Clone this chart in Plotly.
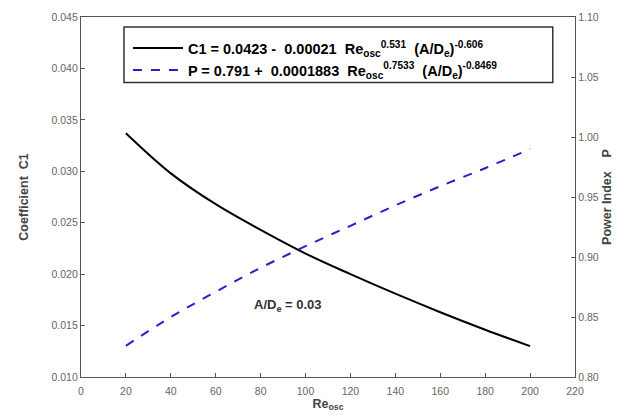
import plotly.graph_objects as go

re_osc = [20, 40, 60, 80, 100, 120, 140, 160, 180, 200]
c1_vals = [0.0337, 0.0298, 0.0268, 0.0243, 0.0220, 0.0200, 0.0181, 0.0163, 0.0146, 0.0130]
p_vals = [0.826, 0.850, 0.871, 0.891, 0.909, 0.926, 0.943, 0.959, 0.974, 0.990]

x_ticks = list(range(0, 221, 20))
c1_label = "<b>C1 = 0.0423 -  0.00021  Re<sub>osc</sub><sup>0.531</sup>  (A/D<sub>e</sub>)<sup>-0.606</sup></b>"
p_label = "<b>P = 0.791 +  0.0001883  Re<sub>osc</sub><sup>0.7533</sup>  (A/D<sub>e</sub>)<sup>-0.8469</sup></b>"

FONT = "Liberation Sans, Arial, sans-serif"

fig = go.Figure()
fig.add_trace(go.Scatter(x=re_osc, y=c1_vals, mode="lines", name=c1_label,
                         line=dict(color="black", width=2, shape="spline"), yaxis="y"))
fig.add_trace(go.Scatter(x=re_osc, y=p_vals, mode="lines", name=p_label,
                         line=dict(color="#2222cc", width=2, dash="dash", shape="spline"), yaxis="y2"))

axis_common = dict(showline=True, linecolor="#555", linewidth=1.2, ticks="inside",
                   ticklen=4, tickcolor="#555", showgrid=False, zeroline=False,
                   tickfont=dict(size=10.5, color="#666", family=FONT))

fig.update_layout(
    width=638, height=418,
    margin=dict(l=81, r=63, t=17, b=41),
    paper_bgcolor="white", plot_bgcolor="white",
    font=dict(family=FONT),
    xaxis=dict(range=[0, 220], tickvals=x_ticks, mirror=True, ticklabelstandoff=4,
               title=dict(text="<b>Re<sub>osc</sub></b>", font=dict(size=12.5, color="#444"), standoff=0),
               **axis_common),
    yaxis=dict(range=[0.010, 0.045], dtick=0.005, tick0=0.010, tickformat=".3f",
               title=dict(text="<b>Coefficient  C1</b>", font=dict(size=12.5, color="#444"), standoff=20),
               **axis_common),
    yaxis2=dict(range=[0.80, 1.10], dtick=0.05, tick0=0.80, tickformat=".2f",
                overlaying="y", side="right",
                title=dict(text="<b>Power Index    P</b>", font=dict(size=12.5, color="#444"), standoff=4),
                **axis_common),
    legend=dict(x=0.095, y=0.958, xanchor="left", yanchor="top",
                borderwidth=0, bgcolor="rgba(0,0,0,0)",
                font=dict(size=14.5, color="black", family=FONT), itemwidth=50,
                tracegroupgap=0),
    showlegend=True,
    shapes=[dict(type="rect", xref="paper", yref="paper",
                 x0=0.087, x1=0.955, y0=0.818, y1=0.972,
                 line=dict(color="#333", width=1.5), fillcolor="rgba(0,0,0,0)", layer="above")],
    annotations=[dict(x=92, y=0.0170, xref="x", yref="y", showarrow=False,
                      text="<b>A/D<sub>e</sub> = 0.03</b>",
                      font=dict(size=13, color="#333", family=FONT))],
)

fig.write_html("out.html")
